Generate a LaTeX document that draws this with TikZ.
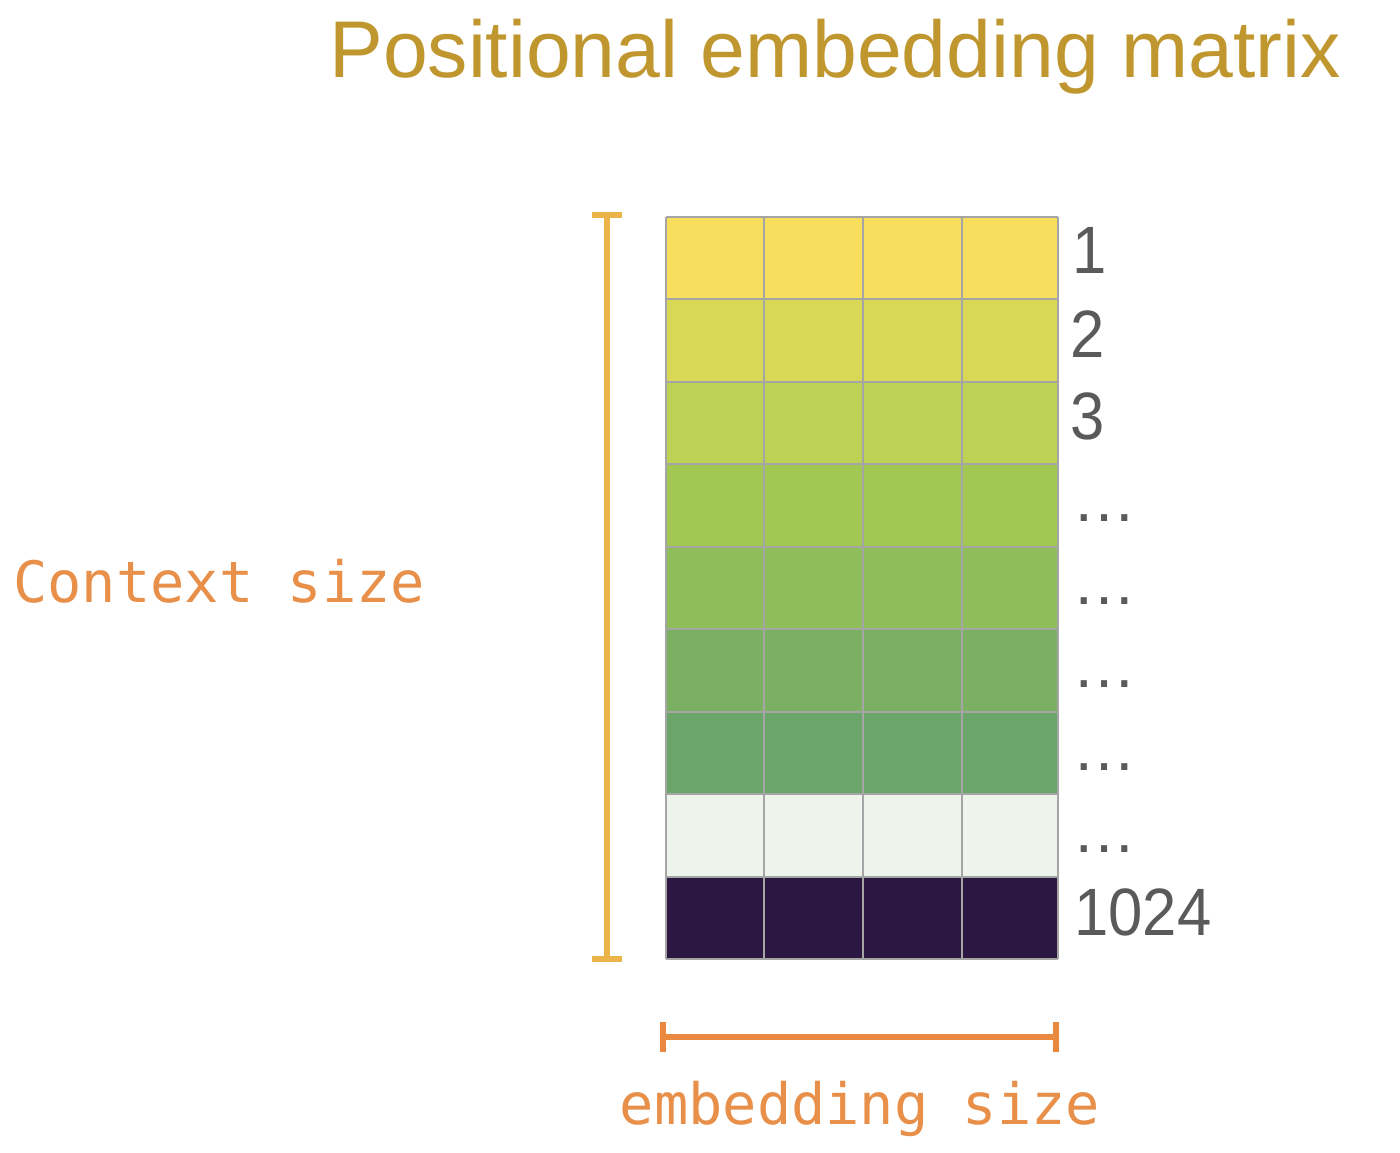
\documentclass[tikz,border=0pt]{standalone}
\usepackage{fontspec}
\setmainfont{Liberation Sans}
\newfontfamily\monofont{DejaVu Sans Mono}
\newfontfamily\numfont[FakeStretch=0.92]{Liberation Sans}
\definecolor{titlecol}{HTML}{C0962F}
\definecolor{labcol}{HTML}{E8904A}
\definecolor{vbrk}{HTML}{EBB449}
\definecolor{hbrk}{HTML}{E8893F}
\definecolor{numcol}{HTML}{5A5A5A}
\definecolor{gridcol}{HTML}{A5A5A5}
\definecolor{rA}{HTML}{F7DE5D}
\definecolor{rB}{HTML}{D9D856}
\definecolor{rC}{HTML}{BDD154}
\definecolor{rD}{HTML}{A3C753}
\definecolor{rE}{HTML}{8FBD59}
\definecolor{rF}{HTML}{7BB062}
\definecolor{rG}{HTML}{6BA56A}
\definecolor{rH}{HTML}{EEF3EC}
\definecolor{rI}{HTML}{2B1741}
\begin{document}
\begin{tikzpicture}[x=1pt,y=-1pt,
  numlab/.style={anchor=base west,inner sep=0pt,text=numcol,font=\numfont\fontsize{67}{67}\selectfont},
  dotlab/.style={anchor=base west,inner sep=0pt,text=numcol,font=\fontsize{64}{64}\selectfont},
  monolab/.style={inner sep=0pt,text=labcol,font=\monofont\fontsize{57}{57}\selectfont},
  vbar/.style={draw=vbrk,line width=6pt},
  hbar/.style={draw=hbrk,line width=5.5pt}]
\useasboundingbox[fill=white] (0,0) rectangle (1400,1152);
% title
\node[anchor=base,inner sep=0pt,text=titlecol,font=\fontsize{80.5}{80.5}\selectfont] (title) at (835,77) {Positional embedding matrix};
% matrix rows
\foreach \c [count=\i from 0] in {rA,rB,rC,rD,rE,rF,rG,rH,rI}{
  \fill[\c] (666,{217+\i*82.44}) rectangle (1058,{217+(\i+1)*82.44});
}
\foreach \i in {0,...,9}{
  \draw[gridcol,line width=2pt] (666,{217+\i*82.44}) -- (1058,{217+\i*82.44});
}
\foreach \x in {666,764,863,962,1058}{
  \draw[gridcol,line width=2pt] (\x,217) -- (\x,959);
}
\node[draw=none,inner sep=0pt,minimum width=392pt,minimum height=742pt,anchor=north west] (mat) at (666,217) {};
% row labels
\node[numlab] (l1) at (1072,273) {1};
\node[numlab] (l2) at (1070,357) {2};
\node[numlab] (l3) at (1070,439) {3};
\foreach \i/\y in {4/521,5/604,6/687,7/770,8/852}{
  \node[dotlab] (l\i) at (1072,\y) {…};
}
\node[numlab] (l9) at (1074,935) {1024};
% context size bracket
\coordinate (vt) at (607,215);
\coordinate (vb) at (607,959);
\draw[vbar] (vt) -- (vb);
\draw[vbar] ([xshift=-15pt]vt) -- ([xshift=15pt]vt);
\draw[vbar] ([xshift=-15pt]vb) -- ([xshift=15pt]vb);
\node[monolab,anchor=base west] (ctx) at (13,602) {Context size};
% embedding size bracket
\coordinate (hl) at (663,1037);
\coordinate (hr) at (1056,1037);
\draw[hbar] (hl) -- (hr);
\draw[hbar] ([yshift=-15pt]hl) -- ([yshift=15pt]hl);
\draw[hbar] ([yshift=-15pt]hr) -- ([yshift=15pt]hr);
\node[monolab,anchor=base] (emb) at (860,1124) {embedding size};
\end{tikzpicture}
\end{document}
